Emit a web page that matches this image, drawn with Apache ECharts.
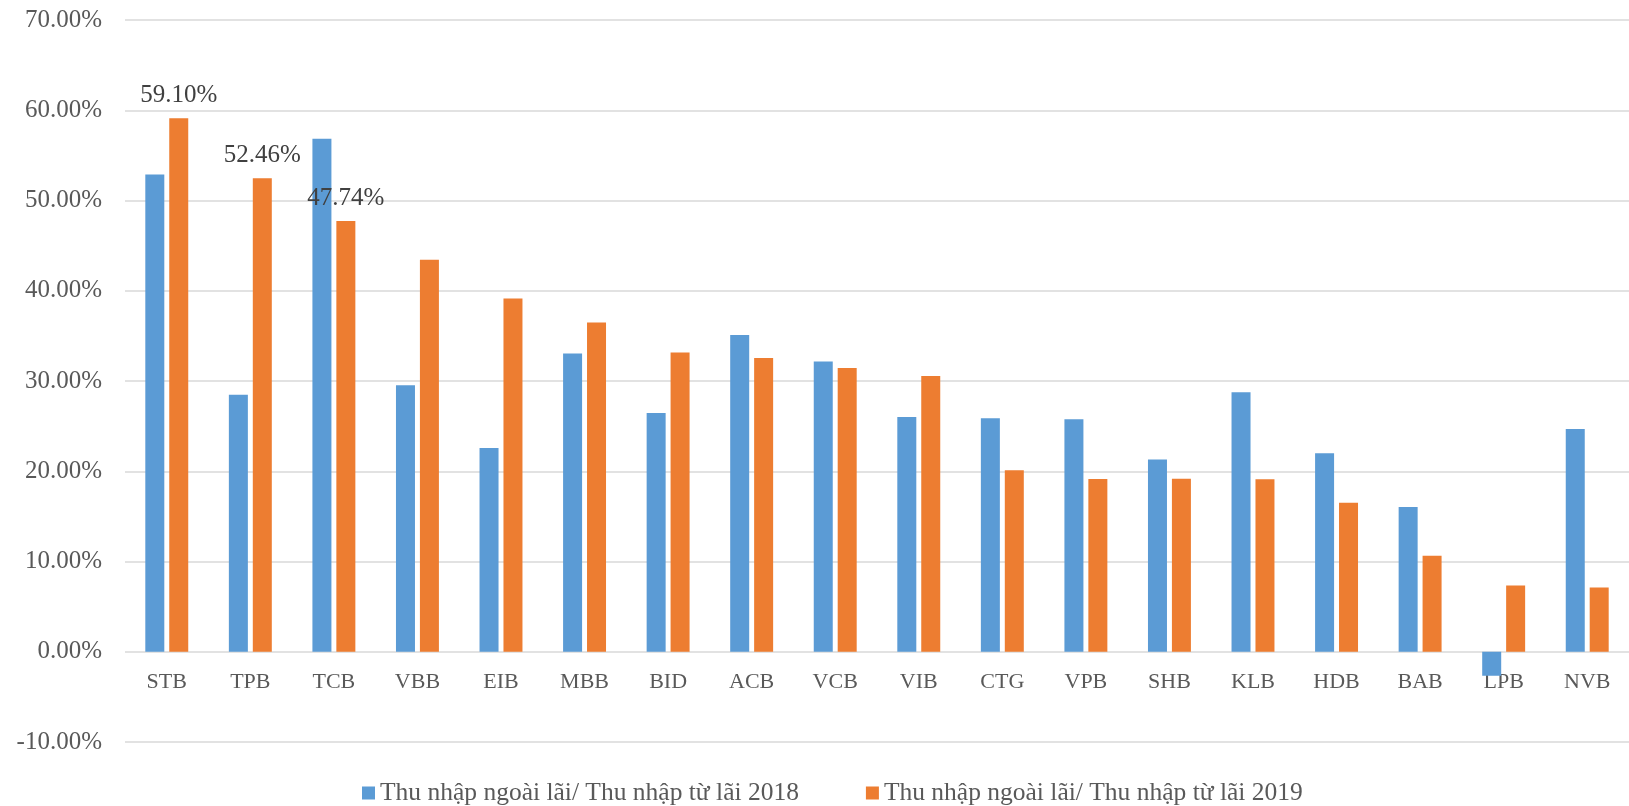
<!DOCTYPE html>
<html>
<head>
<meta charset="utf-8">
<script src="https://cdn.jsdelivr.net/npm/echarts@6/dist/echarts.min.js"></script>
<style>
html,body{margin:0;padding:0;background:#fff;}
#chart{width:1629px;height:806px;}
</style>
</head>
<body>
<div id="chart"></div>
<script>
const categories = ['STB','TPB','TCB','VBB','EIB','MBB','BID','ACB','VCB','VIB','CTG','VPB','SHB','KLB','HDB','BAB','LPB','NVB'];
const series2018Name = 'Thu nhập ngoài lãi/ Thu nhập từ lãi 2018';
const series2019Name = 'Thu nhập ngoài lãi/ Thu nhập từ lãi 2019';
const values2018 = [52.88, 28.49, 56.84, 29.52, 22.58, 33.04, 26.46, 35.11, 32.15, 26.02, 25.87, 25.76, 21.29, 28.75, 21.99, 16.04, -2.66, 24.69];
const values2019 = [59.10, 52.46, 47.74, 43.43, 39.13, 36.47, 33.15, 32.56, 31.45, 30.56, 20.11, 19.15, 19.18, 19.10, 16.52, 10.64, 7.35, 7.13];
const labeledIndices = [0, 1, 2];
const yTicks = { min: -10, max: 70, interval: 10 };

const FONT = '"Liberation Serif", "DejaVu Serif", serif';

const chart = echarts.init(document.getElementById('chart'));
chart.setOption({
  animation: false,
  textStyle: { fontFamily: FONT },
  grid: { left: 125, right: 0, top: 20, bottom: 64, containLabel: false },
  legend: {
    left: 357,
    top: 775,
    itemWidth: 13,
    itemHeight: 13,
    itemGap: 67,
    icon: 'rect',
    textStyle: { fontFamily: FONT, fontSize: 25.5, color: '#595959' },
    data: [series2018Name, series2019Name]
  },
  xAxis: {
    type: 'category',
    data: categories,
    offset: -90,
    axisLine: { show: false, onZero: false },
    axisTick: { show: false },
    axisLabel: { fontFamily: FONT, fontSize: 22, color: '#595959', margin: 19 }
  },
  yAxis: {
    type: 'value',
    min: yTicks.min,
    max: yTicks.max,
    interval: yTicks.interval,
    axisLine: { show: false },
    axisTick: { show: false },
    axisLabel: {
      fontFamily: FONT, fontSize: 25, color: '#595959', margin: 23,
      formatter: v => v.toFixed(2) + '%'
    },
    splitLine: { lineStyle: { color: '#d9d9d9', width: 1.5 } }
  },
  series: [
    {
      name: series2018Name,
      type: 'bar',
      data: values2018,
      barWidth: 19,
      barGap: '26%',
      itemStyle: { color: '#5B9BD5' },
      z: 3
    },
    {
      name: series2019Name,
      type: 'bar',
      data: values2019.map((v, i) => labeledIndices.includes(i)
        ? { value: v, label: { show: true, position: 'top', distance: 10, fontFamily: FONT, fontSize: 25, color: '#404040', formatter: p => p.value.toFixed(2) + '%' } }
        : v),
      barWidth: 19,
      itemStyle: { color: '#ED7D31' },
      z: 3
    }
  ]
});
</script>
</body>
</html>
